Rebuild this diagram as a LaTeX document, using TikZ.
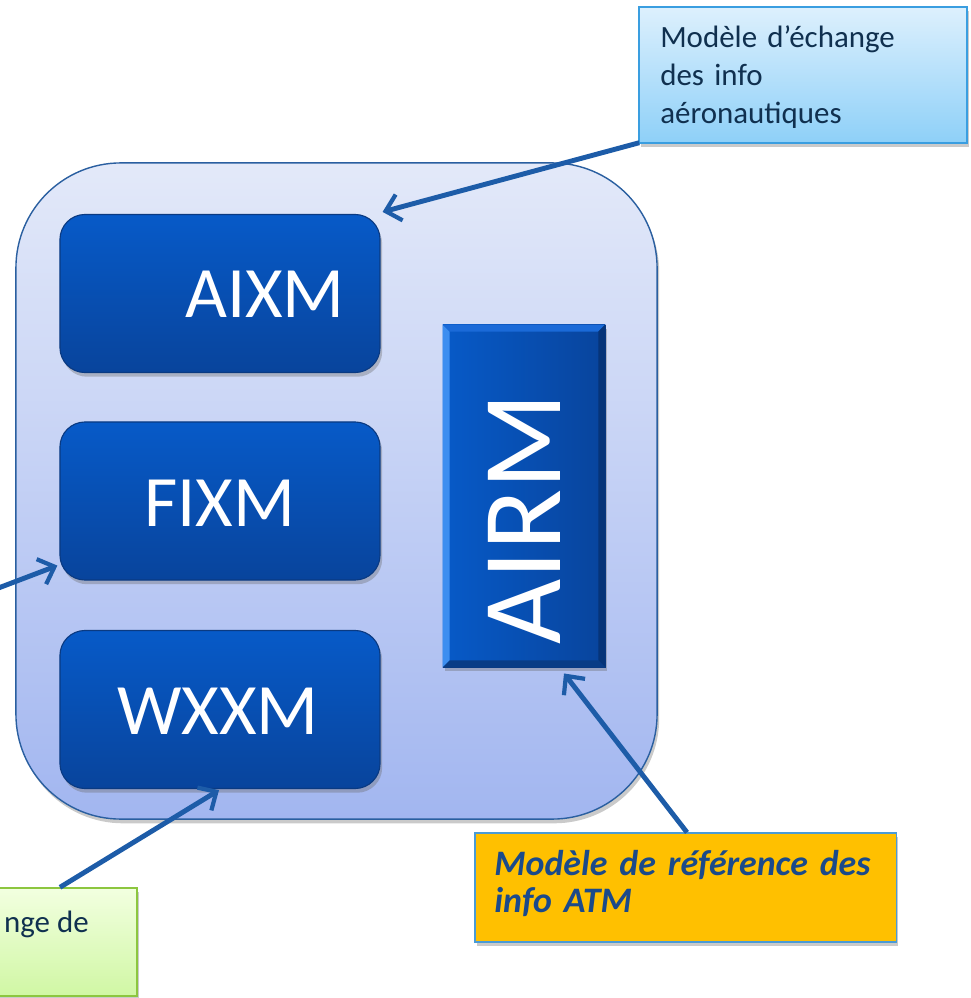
\documentclass[tikz,border=0pt]{standalone}
\usepackage{fontspec}
\setmainfont{Carlito}
\usetikzlibrary{arrows.meta,shadows,calc}
\definecolor{linkblue}{HTML}{1D5CA8}
\definecolor{frametop}{HTML}{E3E9F9}
\definecolor{framebot}{HTML}{A2B6F0}
\definecolor{frameedge}{HTML}{2A5FA0}
\definecolor{boxtop}{HTML}{075AC8}
\definecolor{boxbot}{HTML}{08449C}
\definecolor{boxedge}{HTML}{0A3A82}
\definecolor{navytext}{HTML}{10304F}
\definecolor{atmtext}{HTML}{1B4A8A}
\definecolor{infotop}{HTML}{DDF0FD}
\definecolor{infobot}{HTML}{8ED0F8}
\definecolor{infoedge}{HTML}{3A9EE0}
\definecolor{atmfill}{HTML}{FFC000}
\definecolor{atmedge}{HTML}{4A9BD6}
\definecolor{greentop}{HTML}{F2FFE0}
\definecolor{greenbot}{HTML}{D0F7A4}
\definecolor{greenedge}{HTML}{8CC63F}
\definecolor{bevellight}{HTML}{3D8EF0}
\definecolor{bevelmid}{HTML}{1A6AD8}
\definecolor{beveldark}{HTML}{063478}
\begin{document}
\begin{tikzpicture}[x=0.025cm,y=-0.025cm,
  shade/.style={drop shadow={shadow xshift=1.5pt,shadow yshift=-3pt,opacity=0.35,fill=black!60}},
  frame/.style={rectangle,rounded corners=2.625cm,minimum width=16.025cm,minimum height=16.4cm,
    top color=frametop,bottom color=framebot,draw=frameedge,line width=1pt,inner sep=0,shade},
  modbox/.style={rectangle,rounded corners=0.625cm,minimum width=8cm,minimum height=3.95cm,
    top color=boxtop,bottom color=boxbot,draw=boxedge,line width=0.8pt,inner sep=0,shade},
  refbox/.style={rectangle,minimum width=4.05cm,minimum height=8.55cm,
    left color=boxtop,right color=boxbot,draw=boxedge,line width=0.6pt,inner sep=0,shade},
  modtext/.style={text=white,font=\fontsize{51.5}{60}\selectfont,inner sep=0},
  callout/.style={rectangle,inner sep=0,line width=1pt,shade},
  calltext/.style={text=navytext,font=\fontsize{22}{26.7}\selectfont,inner sep=0,align=left},
  link/.style={draw=linkblue,line width=3.5pt,-{Straight Barb[length=10pt,width=19pt,line width=3pt]}}
]
\useasboundingbox (0,0) rectangle (971,998);

% frame
\node[frame] (frame) at (336.5,491) {};

% model boxes
\node[modbox] (aixm) at (220,293.5) {};
\node[modtext] (aixmtxt) at (265,294) {AIXM};
\node[modbox] (fixm) at (220,501) {};
\node[modtext] (fixmtxt) at (220,503) {FIXM};
\node[modbox] (wxxm) at (220,709.5) {};
\node[modtext] (wxxmtxt) at (218,711.5) {WXXM};

% AIRM
\node[refbox] (airm) at (524,496) {};
\fill[bevellight] (airm.north west) -- ($(airm.north west)+(7,7)$) -- ($(airm.south west)+(7,-7)$) -- (airm.south west) -- cycle;
\fill[bevelmid] (airm.north west) -- (airm.north east) -- ($(airm.north east)+(-7,7)$) -- ($(airm.north west)+(7,7)$) -- cycle;
\fill[beveldark] (airm.north east) -- (airm.south east) -- ($(airm.south east)+(-7,-7)$) -- ($(airm.north east)+(-7,7)$) -- cycle;
\fill[beveldark!85!bevelmid] (airm.south west) -- (airm.south east) -- ($(airm.south east)+(-7,-7)$) -- ($(airm.south west)+(7,-7)$) -- cycle;
\node[modtext,font=\fontsize{80}{90}\selectfont,rotate=90] (airmtxt) at (524.5,519) {AIRM};

% callouts
\node[callout,minimum width=8.2cm,minimum height=3.4cm,top color=infotop,bottom color=infobot,draw=infoedge] (info) at (803,75) {};
\node[calltext,anchor=base west,text width=7.5cm] (infotxt) at (660,48) {Modèle d’échange\\des info\\aéronautiques};

\node[callout,minimum width=10.525cm,minimum height=2.725cm,fill=atmfill,draw=atmedge,line width=0.8pt] (atm) at (685.5,887.5) {};
\node[calltext,text=atmtext,font=\fontsize{25.5}{27}\selectfont\bfseries\itshape,anchor=base west,text width=10.2cm] (atmtxt) at (494,875) {Modèle de référence des\\info ATM};

\node[callout,minimum width=3.925cm,minimum height=2.7cm,top color=greentop,bottom color=greenbot,draw=greenedge] (green) at (58.5,942) {};
\node[calltext,anchor=base east] (greentxt) at (89,932) {nge de};

% connectors
\coordinate (fixsrc) at (-20,595);
\draw[link] ($(info.south west)+(1,-1)$) -- ($(aixm.north east)+(2,-2)$);
\draw[link] (fixsrc) -- ($(fixm.south west)+(-2,-15)$);
\draw[link] ($(green.north)+(1.5,0)$) -- ($(wxxm.south)+(-1,1)$);
\draw[link] ($(atm.north)+(1.5,0)$) -- ($(airm.south)+(40,6)$);
\end{tikzpicture}
\end{document}
